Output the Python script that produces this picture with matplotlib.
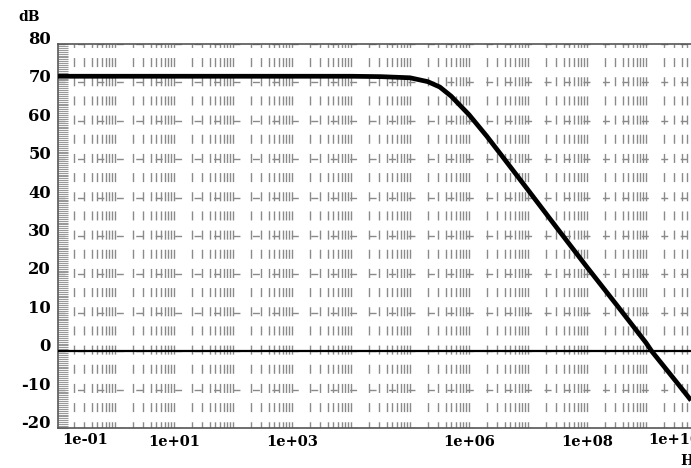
import matplotlib
matplotlib.use("Agg")
import matplotlib.pyplot as plt
from matplotlib.ticker import LogLocator, MultipleLocator, NullFormatter

# ---- data ----
freq_hz = [1.08e-1, 1e0, 1e1, 1e2, 1e3, 1e4, 3.2e4, 1e5, 2e5, 3.2e5, 5e5,
           1e6, 2e6, 3.4e6, 1e7, 3.2e7, 1e8, 3.2e8, 1e9, 1.25e9, 3.2e9, 5.8e9]
gain_db = [71.6, 71.6, 71.6, 71.6, 71.6, 71.6, 71.5, 71.2, 70.2, 68.8, 66.4,
           61.6, 56.0, 51.4, 42.0, 31.8, 21.9, 12.0, 2.2, 0.0, -7.8, -12.8]

x_tick_vals = [1e1, 1e3, 1e6, 1e8]
x_tick_labels = ["1e+01", "1e+03", "1e+06", "1e+08"]
edge_labels = ["1e-01", "1e+10"]
y_tick_vals = [-20, -10, 0, 10, 20, 30, 40, 50, 60, 70, 80]
y_tick_labels = [str(v) for v in y_tick_vals]
ref_level_db = 0
x_limits = (10 ** -0.966, 10 ** 9.763)
y_limits = (-20, 80)

XFONT = dict(family="DejaVu Serif", weight="bold", size=10.5)
YFONT = dict(family="DejaVu Serif", weight="bold", size=11.8)

fig = plt.figure(figsize=(6.91, 4.68), dpi=100)
ax = fig.add_axes([58 / 691, 40 / 468, 633 / 691, 384 / 468])
ax.set_xscale("log")
ax.set_xlim(*x_limits)
ax.set_ylim(*y_limits)

# grid
ax.set_xticks(x_tick_vals)
ax.set_xticklabels(x_tick_labels, **XFONT)
ax.xaxis.set_minor_locator(LogLocator(base=10, subs=range(1, 10), numticks=100))
ax.xaxis.set_minor_formatter(NullFormatter())
ax.tick_params(axis="x", which="both", length=0, pad=5)
ax.grid(True, axis="x", which="both", color="#8a8a8a", lw=1.0,
        ls=(2, (6.5, 7.3)))

ax.set_yticks(y_tick_vals)
ax.set_yticklabels(y_tick_labels, **YFONT)
for lab in ax.get_yticklabels():
    lab.set_verticalalignment("baseline")
ax.yaxis.set_minor_locator(MultipleLocator(0.5))
ax.tick_params(axis="y", which="both", direction="in", length=7,
               color="#999999", width=0.8, pad=5)
ax.grid(True, axis="y", which="major", color="#8a8a8a", lw=1.0,
        ls=(0, (5, 9)))

ax.axhline(ref_level_db, color="black", lw=1.6, zorder=3)

ax.plot(freq_hz, gain_db, color="black", lw=3.4, zorder=4,
        solid_capstyle="butt")

ax.spines["right"].set_visible(False)
for side in ["top", "bottom", "left"]:
    ax.spines[side].set_color("#555555")
    ax.spines[side].set_linewidth(1.2)

fig.text(62 / 691, 1 - 440 / 468, edge_labels[0], ha="left", va="center", **XFONT)
fig.text(648 / 691, 1 - 440 / 468, edge_labels[1], ha="left", va="center", **XFONT)
fig.text(18 / 691, 1 - 17 / 468, "dB", ha="left", va="center",
         family="DejaVu Serif", weight="bold", size=10)
fig.text(680 / 691, 1 - 461 / 468, "Hz", ha="left", va="center",
         family="DejaVu Serif", weight="bold", size=10)

fig.savefig("out.png", dpi=100)
